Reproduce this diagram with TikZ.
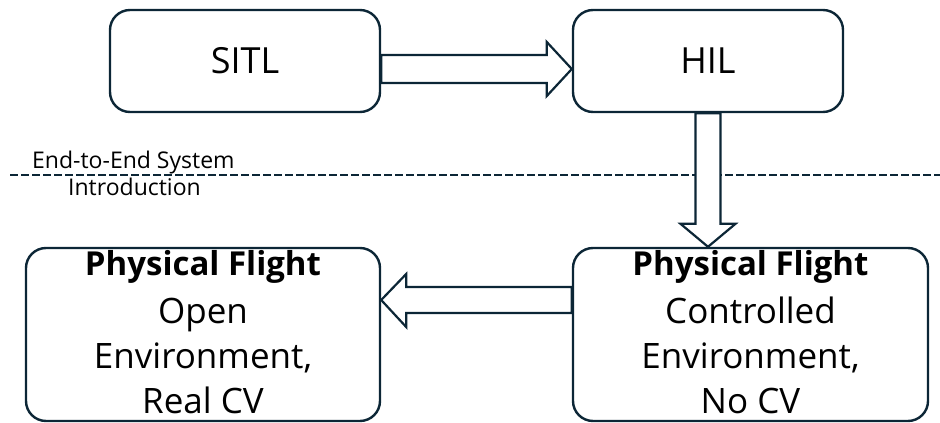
\documentclass[tikz,border=0pt]{standalone}
\usepackage{fontspec}
\setmainfont{Open Sans}
\usetikzlibrary{calc}
\definecolor{edge}{RGB}{12,38,54}
\tikzset{
  stagebox/.style={draw=edge, line width=2.4pt, rounded corners=20pt, fill=white,
    inner sep=0pt, minimum width=#1},
  blockarrow/.style={draw=edge, line width=2.2pt, fill=white, line join=miter},
  bigtext/.style={font=\fontsize{35}{45}\selectfont, text=black, align=center, inner sep=0pt},
  smalltext/.style={font=\fontsize{23}{27}\selectfont, text=black, inner sep=0pt},
}
\newcommand{\headline}{\fontsize{33}{45}\selectfont\bfseries}
\begin{document}
\begin{tikzpicture}[x=1pt,y=-1pt]
\useasboundingbox (0,0) rectangle (940,423);

% stage boxes
\node[stagebox=270pt, minimum height=102pt, bigtext, font=\fontsize{36}{44}\selectfont] (sitl) at (245,61) {SITL};
\node[stagebox=270pt, minimum height=102pt, bigtext, font=\fontsize{36}{44}\selectfont] (hil) at (708,61) {HIL};
\node[stagebox=354pt, minimum height=173pt] (pfo) at (203,334.5) {};
\node[stagebox=355pt, minimum height=173pt] (pfc) at (750.5,334.5) {};

% box texts
\node[bigtext] (pfotext) at ($(pfo.center)+(0,-2)$)
  {{\headline Physical Flight}\\[3pt]Open\\Environment,\\Real CV};
\node[bigtext] (pfctext) at ($(pfc.center)+(0,-2)$)
  {{\headline Physical Flight}\\[3pt]Controlled\\Environment,\\No CV};

% boundary between simulation and real flight
\coordinate (divl) at (10,175);
\coordinate (divr) at (940,175);
\draw[edge, line width=2pt, dash pattern=on 8pt off 3pt] (divl) -- (divr);
\node[smalltext, anchor=base west] (divtop) at (32,168) {End-to-End System};
\node[smalltext, anchor=base west] (divbot) at (68,195) {Introduction};

% SITL -> HIL
\draw[blockarrow]
  ($(sitl.east)+(0,-6)$) -- ($(hil.west)+(-25,-6)$) -- ($(hil.west)+(-25,-19)$)
  -- ($(hil.west)+(0,8)$) -- ($(hil.west)+(-25,35)$) -- ($(hil.west)+(-25,22)$)
  -- ($(sitl.east)+(0,22)$) -- cycle;

% HIL -> controlled physical flight
\coordinate (dtip) at (hil.south |- pfc.north);
\draw[blockarrow]
  ($(hil.south)+(-12.5,0)$) -- ($(dtip)+(-12.5,-23)$) -- ($(dtip)+(-27.5,-23)$)
  -- (dtip) -- ($(dtip)+(27.5,-23)$) -- ($(dtip)+(12.5,-23)$)
  -- ($(hil.south)+(12.5,0)$) -- cycle;

% controlled -> open physical flight
\draw[blockarrow]
  ($(pfc.west)+(0,-47.5)$) -- ($(pfo.east)+(25,-47.5)$) -- ($(pfo.east)+(25,-60.5)$)
  -- ($(pfo.east)+(0,-34.5)$) -- ($(pfo.east)+(25,-7.5)$) -- ($(pfo.east)+(25,-21.5)$)
  -- ($(pfc.west)+(0,-21.5)$) -- cycle;
\end{tikzpicture}
\end{document}
